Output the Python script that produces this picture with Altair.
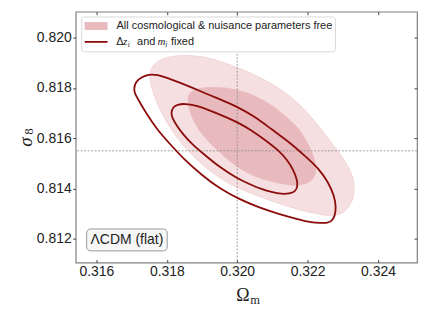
import altair as alt
import pandas as pd

# ---- data (Omega_m, sigma_8) ----
free_2s_om = [0.31750, 0.31754, 0.31767, 0.31790, 0.31821, 0.31863, 0.31906, 0.31942, 0.31976,
              0.32025, 0.32070, 0.32118, 0.32166, 0.32211, 0.32259, 0.32296, 0.32322, 0.32333,
              0.32333, 0.32322, 0.32302, 0.32276, 0.32240, 0.32189, 0.32146, 0.32098, 0.32053,
              0.32005, 0.31959, 0.31911, 0.31863, 0.31818, 0.31781, 0.31758]
free_2s_s8 = [0.81845, 0.81874, 0.81900, 0.81918, 0.81928, 0.81930, 0.81924, 0.81910, 0.81894,
              0.81868, 0.81839, 0.81801, 0.81750, 0.81686, 0.81599, 0.81532, 0.81473, 0.81425,
              0.81374, 0.81334, 0.81303, 0.81291, 0.81295, 0.81311, 0.81328, 0.81350, 0.81374,
              0.81400, 0.81433, 0.81481, 0.81544, 0.81619, 0.81710, 0.81789]

free_1s_om = [0.31858, 0.31863, 0.31880, 0.31911, 0.31954, 0.31996, 0.32033, 0.32070, 0.32109,
              0.32146, 0.32175, 0.32194, 0.32211, 0.32223, 0.32225, 0.32214, 0.32194, 0.32166,
              0.32146, 0.32104, 0.32053, 0.32005, 0.31962, 0.31928, 0.31900, 0.31880, 0.31866]
free_1s_s8 = [0.81750, 0.81781, 0.81795, 0.81803, 0.81803, 0.81795, 0.81779, 0.81756, 0.81722,
              0.81678, 0.81639, 0.81597, 0.81552, 0.81504, 0.81461, 0.81433, 0.81417, 0.81412,
              0.81414, 0.81425, 0.81445, 0.81479, 0.81528, 0.81572, 0.81615, 0.81655, 0.81702]

fixed_2s_om = [0.31706, 0.31712, 0.31727, 0.31750, 0.31770, 0.31815, 0.31863, 0.31911, 0.31957,
               0.31999, 0.32050, 0.32098, 0.32146, 0.32194, 0.32231, 0.32259, 0.32276, 0.32281,
               0.32278, 0.32268, 0.32254, 0.32237, 0.32211, 0.32175, 0.32118, 0.32061, 0.32005,
               0.31948, 0.31900, 0.31849, 0.31807, 0.31770, 0.31742, 0.31722, 0.31709]
fixed_2s_s8 = [0.81797, 0.81825, 0.81843, 0.81854, 0.81854, 0.81833, 0.81807, 0.81777, 0.81752,
               0.81726, 0.81686, 0.81635, 0.81587, 0.81528, 0.81481, 0.81425, 0.81370, 0.81327,
               0.81291, 0.81269, 0.81263, 0.81263, 0.81265, 0.81277, 0.81299, 0.81325, 0.81358,
               0.81402, 0.81453, 0.81516, 0.81580, 0.81639, 0.81698, 0.81746, 0.81777]

fixed_1s_om = [0.31812, 0.31818, 0.31829, 0.31852, 0.31883, 0.31920, 0.31962, 0.31999, 0.32042,
               0.32081, 0.32118, 0.32143, 0.32160, 0.32170, 0.32172, 0.32165, 0.32149, 0.32126,
               0.32098, 0.32067, 0.32033, 0.31999, 0.31948, 0.31906, 0.31872, 0.31846, 0.31826,
               0.31815]
fixed_1s_s8 = [0.81702, 0.81724, 0.81734, 0.81738, 0.81730, 0.81712, 0.81688, 0.81665, 0.81631,
               0.81591, 0.81552, 0.81512, 0.81473, 0.81437, 0.81408, 0.81388, 0.81380, 0.81378,
               0.81386, 0.81398, 0.81419, 0.81441, 0.81487, 0.81536, 0.81576, 0.81615, 0.81655,
               0.81682]

fiducial_om = [0.320]
fiducial_s8 = [0.8155]

x_ticks = [0.316, 0.318, 0.320, 0.322, 0.324]
y_ticks = [0.812, 0.814, 0.816, 0.818, 0.820]
x_domain = [0.31541, 0.32511]
y_domain = [0.81106, 0.82103]

legend_free = "All cosmological & nuisance parameters free"
box_label = "\u039bCDM (flat)"

LIGHT = "#f6dfe0"
DARK = "#e9babd"
LINE = "#8c0b0b"
SANS = "Liberation Sans"
SERIF = "Liberation Serif"


def frame(om, s8):
    return pd.DataFrame({"om": om, "s8": s8, "i": list(range(len(om)))})


xs = alt.Scale(domain=x_domain, nice=False, zero=False)
ys = alt.Scale(domain=y_domain, nice=False, zero=False)

ax_bottom = alt.Axis(values=x_ticks, format=".3f", tickSize=3, offset=-3, labelPadding=2,
                     domain=False, grid=False, tickColor="#444", labelFont=SANS,
                     labelFontSize=14, labelColor="#222", labelOverlap=False, title=None)
ax_left = alt.Axis(values=y_ticks, format=".3f", tickSize=3, labelPadding=1.5,
                   domain=False, grid=False, tickColor="#444", labelFont=SANS,
                   labelFontSize=14, labelColor="#222", labelOverlap=False, title=None)
ax_top = alt.Axis(orient="top", values=x_ticks, labels=False, tickSize=3, offset=-3,
                  domain=False, grid=False, tickColor="#444", title=None)
ax_right = alt.Axis(orient="right", values=y_ticks, labels=False, tickSize=3, offset=-3,
                    domain=False, grid=False, tickColor="#444", title=None)


def contour(om, s8, xaxis=None, yaxis=None, **mark):
    return alt.Chart(frame(om, s8)).mark_line(interpolate="basis-closed", clip=True, **mark).encode(
        x=alt.X("om:Q", scale=xs, axis=xaxis),
        y=alt.Y("s8:Q", scale=ys, axis=yaxis),
        order="i:Q",
    )


fill2 = contour(free_2s_om, free_2s_s8, ax_bottom, ax_left,
                fill=LIGHT, stroke="#efd0d2", strokeWidth=0.8)
fill1 = contour(free_1s_om, free_1s_s8, fill=DARK, stroke=DARK, strokeWidth=0.5)
line2 = contour(fixed_2s_om, fixed_2s_s8, ax_top, ax_right, stroke=LINE, strokeWidth=1.8)
line1 = contour(fixed_1s_om, fixed_1s_s8, stroke=LINE, strokeWidth=1.8)

vline = alt.Chart(pd.DataFrame({"om": fiducial_om})).mark_rule(
    color="#8a8a8a", strokeWidth=0.8, strokeDash=[2, 1.5]).encode(
    x=alt.X("om:Q", scale=xs, axis=None))
hline = alt.Chart(pd.DataFrame({"s8": fiducial_s8})).mark_rule(
    color="#8a8a8a", strokeWidth=0.8, strokeDash=[2, 1.5]).encode(
    y=alt.Y("s8:Q", scale=ys, axis=None))

one = pd.DataFrame({"a": [0]})

leg_box = alt.Chart(one).mark_rect(fill="white", stroke="#cfcfcf", strokeWidth=0.8,
                                   cornerRadius=3).encode(
    x=alt.value(6), x2=alt.value(261), y=alt.value(5.3), y2=alt.value(40.3))
leg_sw1 = alt.Chart(one).mark_rect(fill=DARK).encode(
    x=alt.value(9), x2=alt.value(32), y=alt.value(10.3), y2=alt.value(18.3))
leg_sw2 = alt.Chart(one).mark_rule(stroke=LINE, strokeWidth=1.8).encode(
    x=alt.value(9), x2=alt.value(32), y=alt.value(30.3))


def txt(s, x, y, size=11, font=SANS, style="normal", align="left", baseline="middle", angle=0,
        color="#222"):
    kw = dict(text=s, fontSize=size, font=font, fontStyle=style, align=align,
              baseline=baseline, color=color)
    if angle:
        kw["angle"] = angle
    return alt.Chart(one).mark_text(**kw).encode(x=alt.value(x), y=alt.value(y))


leg_t1 = txt(legend_free, 41, 14.3)
leg_t2 = [
    txt("\u0394", 40.7, 30.3),
    txt("z", 47.5, 30.3, font=SERIF, style="italic"),
    txt("i", 52.3, 33.0, size=7.5, font=SERIF, style="italic"),
    txt("and", 61.7, 30.3),
    txt("m", 82.3, 30.3, font=SERIF, style="italic"),
    txt("i", 89.9, 33.0, size=7.5, font=SERIF, style="italic"),
    txt("fixed", 95.7, 30.3),
]

box = alt.Chart(one).mark_rect(fill="#f7f7f7", stroke="#999999", strokeWidth=1,
                               cornerRadius=4).encode(
    x=alt.value(11), x2=alt.value(92), y=alt.value(218.3), y2=alt.value(240.3))
box_t = txt(box_label, 51.5, 229.5, size=14, align="center")

xt1 = txt("\u03a9", 168, 291, size=18, font=SERIF, align="center", baseline="alphabetic")
xt2 = txt("m", 175.5, 293.5, size=12.5, font=SERIF, baseline="alphabetic")
yt1 = txt("\u03c3", -44, 131, size=19, font=SERIF, style="italic", align="center",
          baseline="alphabetic", angle=270)
yt2 = txt("8", -42.5, 120.5, size=13, font=SERIF, align="center", baseline="alphabetic",
          angle=270)

chart = alt.layer(
    fill2, fill1, vline, hline, line2, line1,
    leg_box, leg_sw1, leg_sw2, leg_t1, *leg_t2,
    box, box_t, xt1, xt2, yt1, yt2,
).resolve_axis(x="independent", y="independent").properties(
    width=343, height=252,
    autosize=alt.AutoSizeParams(type="none"),
    padding={"left": 68, "top": 3, "right": 5, "bottom": 50},
).configure_view(stroke="#808080", strokeWidth=1.2)

chart.save("out.html", embed_options={"renderer": "svg", "actions": False})
